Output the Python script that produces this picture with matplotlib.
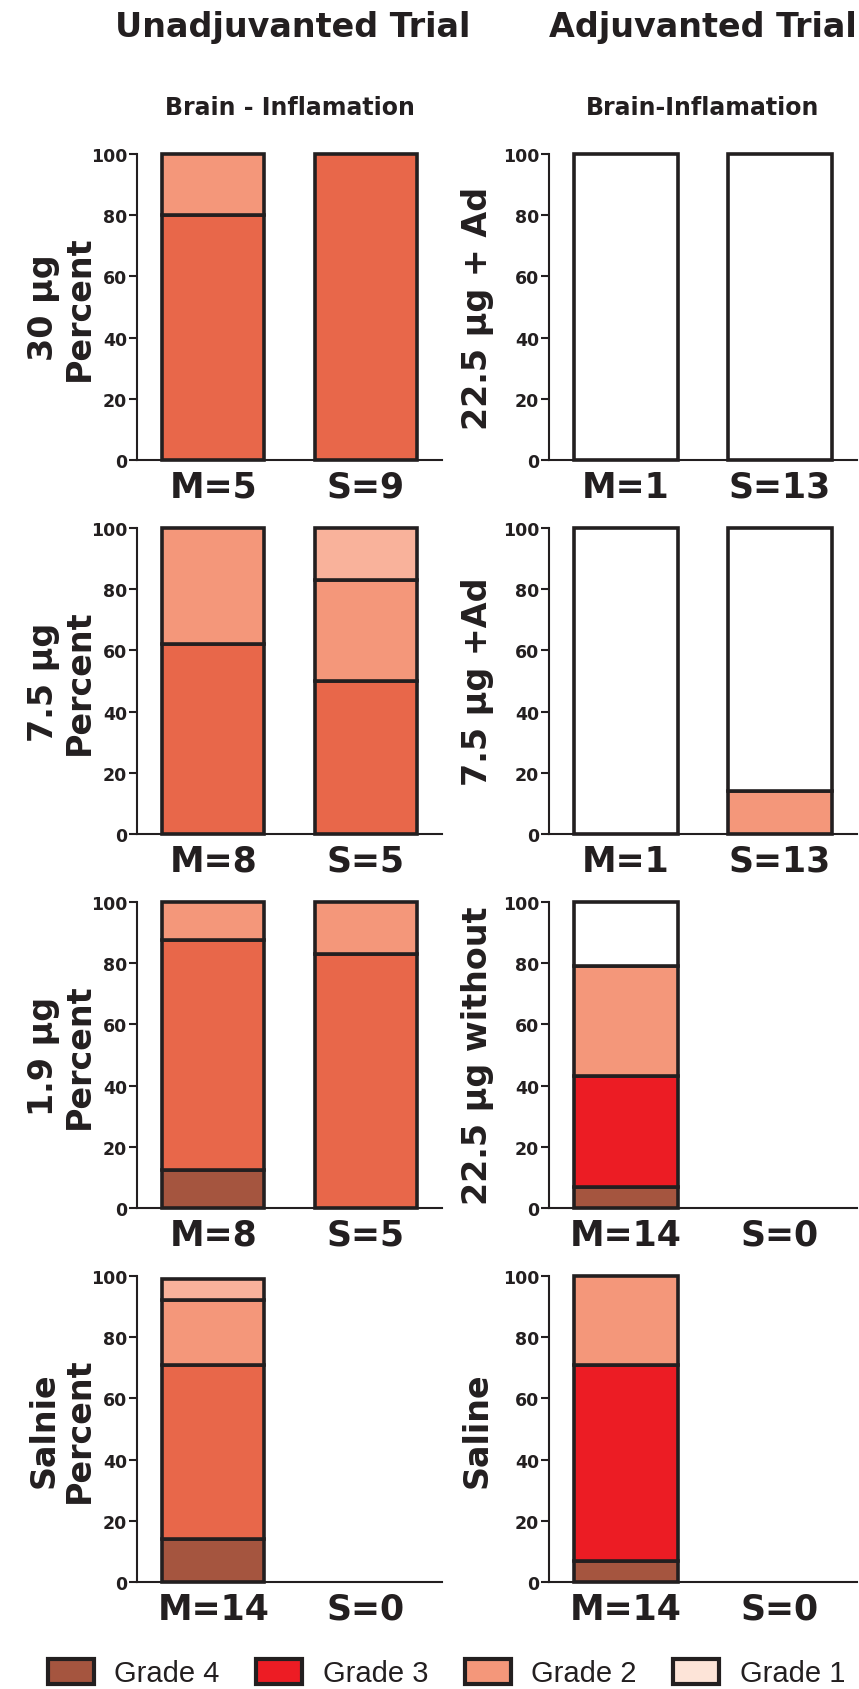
import numpy as np
import matplotlib
matplotlib.use("Agg")
import matplotlib.pyplot as plt
from matplotlib.patches import Patch

# Brain inflammation grades (% of animals), rows = dose groups, columns = [M, S]
unadj_labels = ["30 µg\nPercent", "7.5 µg\nPercent", "1.9 µg\nPercent", "Salnie\nPercent"]
unadj_M_n = [5, 8, 8, 14]
unadj_S_n = [9, 5, 5, 0]
unadj_g4 = [[0, 0], [0, 0], [12.5, 0], [14, 0]]
unadj_g3 = [[80, 100], [62, 50], [75, 83], [57, 0]]
unadj_g2 = [[20, 0], [38, 33], [12.5, 17], [21, 0]]
unadj_g1 = [[0, 0], [0, 17], [0, 0], [7, 0]]

adj_labels = ["22.5 µg + Ad", "7.5 µg +Ad", "22.5 µg without", "Saline"]
adj_M_n = [1, 1, 14, 14]
adj_S_n = [13, 13, 0, 0]
adj_g4 = [[0, 0], [0, 0], [7, 0], [7, 0]]
adj_g3 = [[0, 0], [0, 0], [36, 0], [64, 0]]
adj_g2 = [[0, 0], [0, 14], [36, 0], [29, 0]]
adj_none = [[100, 100], [100, 86], [21, 0], [0, 0]]

legend_labels = ["Grade 4", "Grade 3", "Grade 2", "Grade 1"]

dark = "#231f20"
unadj_colors = ["#a5553f", "#e8674a", "#f4977a", "#f9b29b"]
adj_colors = ["#a5553f", "#ec1c24", "#f4977a", "white"]
legend_colors = ["#a5553f", "#ed1c24", "#f4977a", "#fde4d8"]

W, H = 859, 1690
fig = plt.figure(figsize=(W / 100, H / 100), dpi=100)

col_left = [137, 549]
col_width = [305, 308]
row_top = [155, 529, 903, 1277]
row_h = 306


def draw_panel(ax, segments, colors, n_m, n_s, ylabel, label_x):
    x = np.arange(2)
    bottom = np.zeros(2)
    for seg, c in zip(segments, colors):
        seg = np.asarray(seg, dtype=float)
        for i in range(2):
            if seg[i] > 0:  # skip empty segments so no stray edge is drawn
                ax.bar(x[i], seg[i], bottom=bottom[i], width=0.67, color=c,
                       edgecolor=dark, linewidth=2.6, clip_on=False, zorder=3)
        bottom += seg
    ax.set_xlim(-0.5, 1.5)
    ax.set_ylim(0, 100)
    ax.set_yticks([0, 20, 40, 60, 80, 100])
    ax.set_xticks(x)
    ax.set_xticklabels([f"M={n_m}", f"S={n_s}"], fontsize=25, fontweight="bold", color=dark)
    ax.tick_params(axis="x", length=0, pad=7)
    ax.tick_params(axis="y", length=6, width=1.5, pad=1, colors=dark, labelsize=12.5)
    for t in ax.get_yticklabels():
        t.set_fontweight("bold")
    for s in ["top", "right"]:
        ax.spines[s].set_visible(False)
    for s in ["left", "bottom"]:
        ax.spines[s].set_linewidth(1.5)
        ax.spines[s].set_color(dark)
    ax.set_ylabel(ylabel, fontsize=24, fontweight="bold", color=dark, linespacing=1.1)
    ax.yaxis.set_label_coords(label_x, 0.5)


for r in range(4):
    for c in range(2):
        l = col_left[c] / W
        b = 1 - (row_top[r] + row_h) / H
        ax = fig.add_axes([l, b, col_width[c] / W, row_h / H])
        if c == 0:
            segs = [unadj_g4[r], unadj_g3[r], unadj_g2[r], unadj_g1[r]]
            draw_panel(ax, segs, unadj_colors, unadj_M_n[r], unadj_S_n[r],
                       unadj_labels[r], -0.135)
        else:
            segs = [adj_g4[r], adj_g3[r], adj_g2[r], adj_none[r]]
            draw_panel(ax, segs, adj_colors, adj_M_n[r], adj_S_n[r],
                       adj_labels[r], -0.18)
        if r == 0:
            sub = "Brain - Inflamation" if c == 0 else "Brain-Inflamation"
            ax.text(0.5, 1 + (row_top[0] - 108) / row_h, sub, transform=ax.transAxes,
                    ha="center", va="center", fontsize=17, fontweight="bold", color=dark)

fig.text(293 / W, 1 - 28 / H, "Unadjuvanted Trial", ha="center", va="center",
         fontsize=24, fontweight="bold", color=dark)
fig.text(703 / W, 1 - 28 / H, "Adjuvanted Trial", ha="center", va="center",
         fontsize=24, fontweight="bold", color=dark)

handles = [Patch(facecolor=col, edgecolor=dark, linewidth=3) for col in legend_colors]
fig.legend(handles, legend_labels, loc="center left",
           bbox_to_anchor=(48 / W, 1 - 1674 / H), ncol=4, frameon=False,
           prop={"family": "Liberation Sans", "size": 21},
           handlelength=1.58, handleheight=0.95, handletextpad=0.7,
           columnspacing=1.25, borderpad=0, borderaxespad=0, labelcolor=dark)

fig.savefig("out.png", dpi=100)
